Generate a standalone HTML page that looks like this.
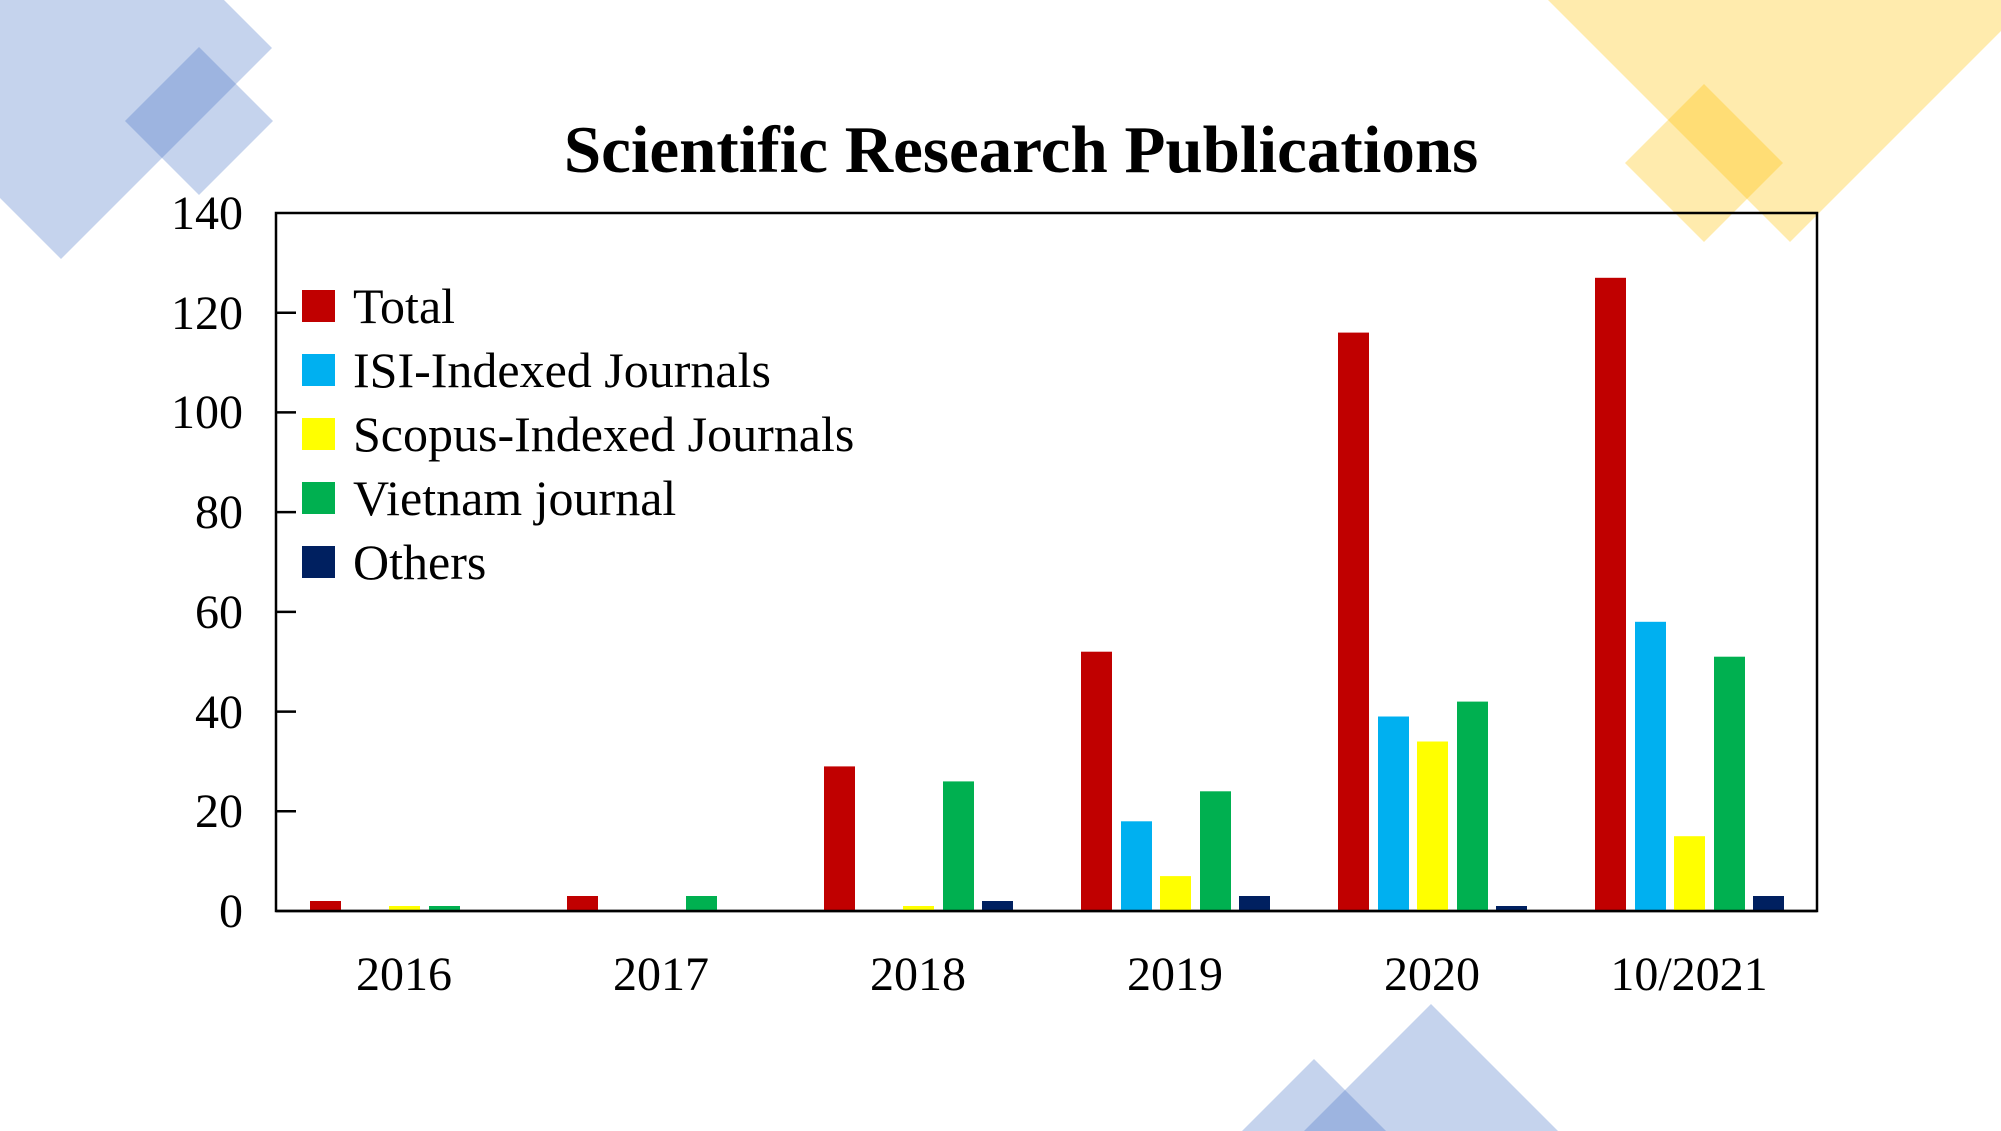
<!DOCTYPE html>
<html><head><meta charset="utf-8"><style>
html,body{margin:0;padding:0;background:#fff;width:2001px;height:1131px;overflow:hidden;}
svg{display:block}
text{font-family:"Liberation Serif",serif;fill:#000}
</style></head><body>
<svg width="2001" height="1131" viewBox="0 0 2001 1131" xmlns="http://www.w3.org/2000/svg">
<g fill="rgba(68,114,196,0.31)">
<polygon points="0,0 224,0 272,48 61,259 0,198"/>
<polygon points="199,47 273,121 199,195 125,121"/>
<polygon points="1431,1004 1558,1131 1304,1131"/>
<polygon points="1314,1059 1386,1131 1242,1131"/>
</g>
<g fill="rgba(255,192,0,0.32)">
<polygon points="1548,0 2001,0 2001,31 1790,242"/>
<polygon points="1704,84 1783,163 1704,242 1625,163"/>
</g>
<text x="1021" y="172" font-size="67" font-weight="bold" text-anchor="middle">Scientific Research Publications</text>
<rect x="276" y="213" width="1541" height="698" fill="none" stroke="#000" stroke-width="2.5"/>
<g stroke="#000" stroke-width="2.5">
<line x1="276" y1="312.7" x2="296" y2="312.7"/>
<line x1="276" y1="412.4" x2="296" y2="412.4"/>
<line x1="276" y1="512.1" x2="296" y2="512.1"/>
<line x1="276" y1="611.9" x2="296" y2="611.9"/>
<line x1="276" y1="711.6" x2="296" y2="711.6"/>
<line x1="276" y1="811.3" x2="296" y2="811.3"/>
</g>
<g font-size="48" text-anchor="end">
<text x="243" y="229">140</text>
<text x="243" y="329">120</text>
<text x="243" y="428">100</text>
<text x="243" y="528">80</text>
<text x="243" y="628">60</text>
<text x="243" y="728">40</text>
<text x="243" y="827">20</text>
<text x="243" y="927">0</text>
</g>
<g font-size="48" text-anchor="middle">
<text x="404" y="990">2016</text>
<text x="661" y="990">2017</text>
<text x="918" y="990">2018</text>
<text x="1175" y="990">2019</text>
<text x="1432" y="990">2020</text>
<text x="1689" y="990">10/2021</text>
</g>
<g font-size="50">
<rect x="302" y="290" width="33" height="32" fill="#C00000"/><text x="353" y="323">Total</text>
<rect x="302" y="354" width="33" height="32" fill="#00B0F0"/><text x="353" y="387">ISI-Indexed Journals</text>
<rect x="302" y="418" width="33" height="32" fill="#FFFF00"/><text x="353" y="451">Scopus-Indexed Journals</text>
<rect x="302" y="482" width="33" height="32" fill="#00B050"/><text x="353" y="515">Vietnam journal</text>
<rect x="302" y="546" width="33" height="32" fill="#002060"/><text x="353" y="579">Others</text>
</g>
<g>
<rect x="310" y="901.0" width="31" height="10.0" fill="#C00000"/>
<rect x="389" y="906.0" width="31" height="5.0" fill="#FFFF00"/>
<rect x="429" y="906.0" width="31" height="5.0" fill="#00B050"/>
<rect x="567" y="896.0" width="31" height="15.0" fill="#C00000"/>
<rect x="686" y="896.0" width="31" height="15.0" fill="#00B050"/>
<rect x="824" y="766.4" width="31" height="144.6" fill="#C00000"/>
<rect x="903" y="906.0" width="31" height="5.0" fill="#FFFF00"/>
<rect x="943" y="781.4" width="31" height="129.6" fill="#00B050"/>
<rect x="982" y="901.0" width="31" height="10.0" fill="#002060"/>
<rect x="1081" y="651.7" width="31" height="259.3" fill="#C00000"/>
<rect x="1121" y="821.3" width="31" height="89.7" fill="#00B0F0"/>
<rect x="1160" y="876.1" width="31" height="34.9" fill="#FFFF00"/>
<rect x="1200" y="791.3" width="31" height="119.7" fill="#00B050"/>
<rect x="1239" y="896.0" width="31" height="15.0" fill="#002060"/>
<rect x="1338" y="332.6" width="31" height="578.4" fill="#C00000"/>
<rect x="1378" y="716.5" width="31" height="194.5" fill="#00B0F0"/>
<rect x="1417" y="741.5" width="31" height="169.5" fill="#FFFF00"/>
<rect x="1457" y="701.6" width="31" height="209.4" fill="#00B050"/>
<rect x="1496" y="906.0" width="31" height="5.0" fill="#002060"/>
<rect x="1595" y="277.8" width="31" height="633.2" fill="#C00000"/>
<rect x="1635" y="621.8" width="31" height="289.2" fill="#00B0F0"/>
<rect x="1674" y="836.2" width="31" height="74.8" fill="#FFFF00"/>
<rect x="1714" y="656.7" width="31" height="254.3" fill="#00B050"/>
<rect x="1753" y="896.0" width="31" height="15.0" fill="#002060"/>
</g>
<line x1="276" y1="911" x2="1817" y2="911" stroke="#000" stroke-width="2.5"/>
</svg>
</body></html>
